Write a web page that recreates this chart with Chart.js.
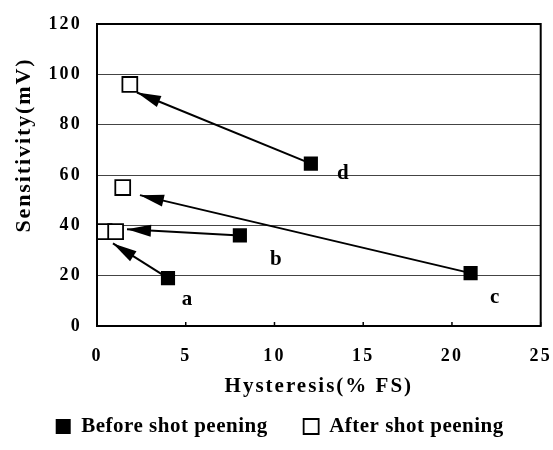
<!DOCTYPE html>
<html>
<head>
<meta charset="utf-8">
<script src="https://cdn.jsdelivr.net/npm/chart.js@4/dist/chart.umd.min.js"></script>
<style>
  html, body { margin: 0; padding: 0; background: #fff; }
  #wrap { width: 553px; height: 450px; }
</style>
</head>
<body>
<div id="wrap"><canvas id="c" width="553" height="450"></canvas></div>
<script>
// ---- data ----
const sampleLabels = ['a', 'b', 'c', 'd'];
const beforeX = [4.0, 8.05, 21.05, 12.05];
const beforeY = [19, 36, 21, 64.5];
const afterX  = [0.4, 1.05, 1.45, 1.85];
const afterY  = [37.5, 37.5, 55, 96];
// arrow tips (where the arrowheads end, next to the "after" markers)
const arrowTipX = [0.9, 1.69, 2.42, 2.25];
const arrowTipY = [32.8, 38.4, 52, 92.8];
const xTicks = [0, 5, 10, 15, 20, 25];
const yTicks = [0, 20, 40, 60, 80, 100, 120];
const seriesNames = ['Before shot peening', 'After shot peening'];
const xTitle = 'Hysteresis(% FS)';
const yTitle = 'Sensitivity(mV)';

const SERIF = "'Liberation Serif', 'DejaVu Serif', serif";

const toPts = (xs, ys) => xs.map((x, i) => ({ x: x, y: ys[i] }));

const arrowSets = sampleLabels.map((lab, i) => ({
  label: 'arrow-' + lab,
  type: 'line',
  data: [{ x: beforeX[i], y: beforeY[i] }, { x: arrowTipX[i], y: arrowTipY[i] }],
  borderColor: '#000',
  borderWidth: 2,
  pointRadius: 0,
  pointHoverRadius: 0,
  fill: false,
  isArrow: true
}));

// label offsets in pixels relative to the "before" marker
const labelOffsets = { a: [19, 21], b: [36, 24], c: [24, 24], d: [32, 10] };

function withSpacing(obj, name, spacing) {
  if (!obj || obj['__w_' + name]) return;
  const orig = obj[name];
  obj[name] = function () {
    const ctx = this.ctx;
    const prev = ctx.letterSpacing;
    ctx.letterSpacing = spacing;
    try { return orig.apply(this, arguments); }
    finally { ctx.letterSpacing = prev === undefined ? '0px' : prev; }
  };
  obj['__w_' + name] = true;
}

const spacingPlugin = {
  id: 'spacing',
  beforeDraw(chart) {
    Object.values(chart.scales).forEach((s) => {
      withSpacing(s, 'drawLabels', '2.2px');
      withSpacing(s, 'drawTitle', '2px');
    });
    withSpacing(chart.legend, 'draw', '0.5px');
  }
};

const decorPlugin = {
  id: 'decor',
  afterDatasetsDraw(chart) {
    const ctx = chart.ctx;
    const xs = chart.scales.x, ys = chart.scales.y;
    const area = chart.chartArea;
    ctx.save();
    // arrowheads
    chart.data.datasets.forEach((ds) => {
      if (!ds.isArrow) return;
      const p0 = ds.data[0], p1 = ds.data[1];
      const x0 = xs.getPixelForValue(p0.x), y0 = ys.getPixelForValue(p0.y);
      const x1 = xs.getPixelForValue(p1.x), y1 = ys.getPixelForValue(p1.y);
      const ang = Math.atan2(y1 - y0, x1 - x0);
      const L = 24, W = 6;
      const bx = x1 - L * Math.cos(ang), by = y1 - L * Math.sin(ang);
      ctx.beginPath();
      ctx.moveTo(x1, y1);
      ctx.lineTo(bx + W * Math.sin(ang), by - W * Math.cos(ang));
      ctx.lineTo(bx - W * Math.sin(ang), by + W * Math.cos(ang));
      ctx.closePath();
      ctx.fillStyle = '#000';
      ctx.fill();
    });
    // sample letters
    ctx.fillStyle = '#000';
    ctx.font = 'bold 21px ' + SERIF;
    ctx.textAlign = 'center';
    ctx.textBaseline = 'middle';
    sampleLabels.forEach((lab, i) => {
      const px = xs.getPixelForValue(beforeX[i]) + labelOffsets[lab][0];
      const py = ys.getPixelForValue(beforeY[i]) + labelOffsets[lab][1];
      ctx.fillText(lab, px, py);
    });
    // plot frame
    ctx.strokeStyle = '#000';
    ctx.lineWidth = 2;
    ctx.strokeRect(area.left, area.top, area.right - area.left, area.bottom - area.top);
    // small inward x ticks
    ctx.lineWidth = 1.5;
    xTicks.forEach((t) => {
      const px = xs.getPixelForValue(t);
      ctx.beginPath();
      ctx.moveTo(px, area.bottom);
      ctx.lineTo(px, area.bottom - 4);
      ctx.stroke();
    });
    // y axis title (sits above the axis centre in the reference)
    ctx.translate(24, 145);
    ctx.rotate(-Math.PI / 2);
    ctx.font = 'bold 22px ' + SERIF;
    ctx.letterSpacing = '1.9px';
    ctx.textAlign = 'center';
    ctx.textBaseline = 'middle';
    ctx.fillText(yTitle, 0, 0);
    ctx.restore();
  }
};

new Chart(document.getElementById('c'), {
  type: 'scatter',
  data: {
    datasets: [
      {
        label: seriesNames[0],
        data: toPts(beforeX, beforeY),
        pointStyle: 'rect',
        pointRadius: 10,
        pointHoverRadius: 10,
        backgroundColor: '#000',
        borderColor: '#000',
        borderWidth: 0
      },
      {
        label: seriesNames[1],
        data: toPts(afterX, afterY),
        pointStyle: 'rect',
        pointRadius: 10.5,
        pointHoverRadius: 10.5,
        backgroundColor: '#fff',
        borderColor: '#000',
        borderWidth: 1.8
      }
    ].concat(arrowSets)
  },
  options: {
    responsive: false,
    animation: false,
    events: [],
    layout: { padding: { left: 0, right: 12, top: 24, bottom: 3 } },
    plugins: {
      tooltip: { enabled: false },
      legend: {
        display: true,
        position: 'bottom',
        labels: {
          filter: (item, data) => !data.datasets[item.datasetIndex].isArrow,
          usePointStyle: true,
          boxWidth: 15,
          boxHeight: 15,
          padding: 36,
          color: '#000',
          font: { family: SERIF, size: 21, weight: 'bold' }
        }
      }
    },
    scales: {
      x: {
        type: 'linear',
        min: 0, max: 25,
        afterBuildTicks: (s) => { s.ticks = xTicks.map(v => ({ value: v })); },
        afterFit: (s) => { s.height = 54; s.paddingLeft = 0; s.paddingRight = 0; },
        grid: { drawOnChartArea: false, drawTicks: false },
        border: { color: '#000', width: 2 },
        ticks: {
          padding: 20,
          color: '#000',
          font: { family: SERIF, size: 18, weight: 'bold' }
        },
        title: {
          display: true,
          text: xTitle,
          color: '#000',
          padding: { top: 0, bottom: -19 },
          font: { family: SERIF, size: 21, weight: 'bold' }
        }
      },
      y: {
        type: 'linear',
        min: 0, max: 120,
        afterBuildTicks: (s) => { s.ticks = yTicks.map(v => ({ value: v })); },
        afterFit: (s) => { s.width = 97; s.paddingTop = 0; s.paddingBottom = 0; },
        grid: { color: '#444', lineWidth: 1, drawTicks: false },
        border: { color: '#000', width: 2 },
        ticks: {
          padding: 15,
          color: '#000',
          font: { family: SERIF, size: 18, weight: 'bold' }
        },
        title: { display: false }
      }
    }
  },
  plugins: [spacingPlugin, decorPlugin]
});
</script>
</body>
</html>
